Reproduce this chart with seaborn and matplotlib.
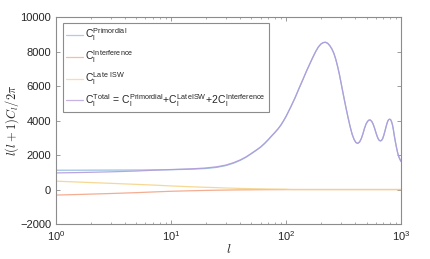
import numpy as np
import pandas as pd
import matplotlib
matplotlib.use("Agg")
import matplotlib.pyplot as plt
from matplotlib.ticker import LogLocator, NullFormatter
import seaborn as sns

# multipoles
ell = [1, 1.5, 2, 3, 5, 7, 10, 15,
       20, 25, 30, 35, 40, 45, 50, 55, 60, 65, 70, 75, 80, 85, 90, 95, 100,
       110, 120, 130, 140, 150, 160, 170, 180, 190, 200, 210, 220, 230, 240,
       250, 260, 270, 280, 290, 300,
       315, 330, 345, 360, 375, 390, 405, 420, 435, 450, 465, 480, 495, 510,
       525, 540, 555, 570, 585, 600, 615, 630, 645, 660, 675, 690, 705, 720,
       735, 750, 765, 780, 795, 810, 825, 840, 855, 870, 885, 900, 915, 930,
       945, 960, 980, 1000]

# acoustic part (l >= 110), where the late-time terms are ~0
total_high = [4800, 5340, 5890, 6380, 6850, 7260, 7640, 7980, 8250, 8430,
              8520, 8540, 8480, 8340, 8150, 7900, 7560, 7150, 6700, 6200,
              5470, 4800, 4190, 3650, 3200, 2900, 2720, 2680, 2760, 2950,
              3230, 3550, 3800, 3950, 4030, 4030, 3950, 3800, 3590, 3350,
              3130, 2950, 2850, 2820, 2850, 2950, 3130, 3350, 3580, 3800,
              3970, 4060, 4080, 4050, 3930, 3750, 3480, 3150, 2870, 2600,
              2370, 2150, 1990, 1850, 1720, 1620]

c_total = [965, 982, 1000, 1028, 1073, 1120, 1160, 1200,
           1250, 1320, 1420, 1560, 1720, 1900, 2100, 2290, 2470, 2680, 2900,
           3120, 3320, 3520, 3740, 3990, 4250] + total_high

c_prim = [1120, 1122, 1125, 1128, 1133, 1140, 1150, 1180,
          1220, 1286, 1390, 1531, 1695, 1877, 2080, 2269, 2450, 2662, 2883,
          3104, 3304, 3506, 3726, 3976, 4238] + total_high

c_interf = [-320, -290, -265, -230, -180, -140, -100, -70,
            -50, -38, -30, -24, -20, -17, -15, -12, -10, -9, -8, -7, -6, -6,
            -5, -4, -4] + [0] * len(total_high)

c_isw = [485, 440, 405, 360, 300, 260, 210, 160,
         130, 110, 90, 77, 65, 57, 50, 45, 40, 36, 33, 30, 28, 26, 24, 22,
         20] + [0] * len(total_high)

labels = [
    r"C$_\mathregular{l}^\mathregular{Primordial}$",
    r"C$_\mathregular{l}^\mathregular{Interference}$",
    r"C$_\mathregular{l}^\mathregular{Late\ ISW}$",
    r"C$_\mathregular{l}^\mathregular{Total}$ = C$_\mathregular{l}^\mathregular{Primordial}$"
    r"+C$_\mathregular{l}^\mathregular{LateISW}$+2C$_\mathregular{l}^\mathregular{Interference}$",
]
colors = ["#8fbbe3", "#f2a486", "#f5d488", "#b29bd8"]

sns.set_style("white")
plt.rcParams["font.family"] = ["Liberation Sans", "DejaVu Sans"]
plt.rcParams["mathtext.fontset"] = "cm"

df = pd.DataFrame({"l": ell, "prim": c_prim, "interf": c_interf,
                   "isw": c_isw, "total": c_total})

fig = plt.figure(figsize=(4.3, 2.59), dpi=100)
ax = fig.add_axes([0.130, 0.135, 0.803, 0.799])

for col, lab, c in zip(["prim", "interf", "isw", "total"], labels, colors):
    sns.lineplot(data=df, x="l", y=col, ax=ax, color=c, alpha=0.9,
                 linewidth=0.9, label=lab)

ax.set_xscale("log")
ax.set_xlim(1, 1000)
ax.set_ylim(-2000, 10000)
ax.set_yticks(np.arange(-2000, 10001, 2000))
ax.xaxis.set_minor_locator(LogLocator(base=10, subs=np.arange(2, 10)))
ax.xaxis.set_minor_formatter(NullFormatter())

ax.set_xlabel(r"$l$", fontsize=9.5, labelpad=0)
ax.set_ylabel(r"$l(l+1)C_l/2\pi$", fontsize=9)
ax.yaxis.set_label_coords(-0.10, 0.5)

for s in ax.spines.values():
    s.set_color("#8c8c8c")
    s.set_linewidth(0.8)
ax.tick_params(which="both", direction="in", bottom=True, left=True,
               top=True, right=True, colors="#8c8c8c",
               labelcolor="#262626", labelsize=8)
ax.tick_params(which="major", length=3, width=0.6)
ax.tick_params(which="minor", length=1.5, width=0.5)

leg = ax.legend(loc="upper left", fontsize=7.5, frameon=True, fancybox=False,
                framealpha=1, edgecolor="#8c8c8c", handlelength=1.6,
                handletextpad=0.2, labelspacing=0.5, borderpad=0.35,
                borderaxespad=0, bbox_to_anchor=(0.02, 0.97))
leg.get_frame().set_linewidth(0.8)
for h in leg.get_lines():
    h.set_alpha(0.75)

fig.savefig("out.png", dpi=100)
